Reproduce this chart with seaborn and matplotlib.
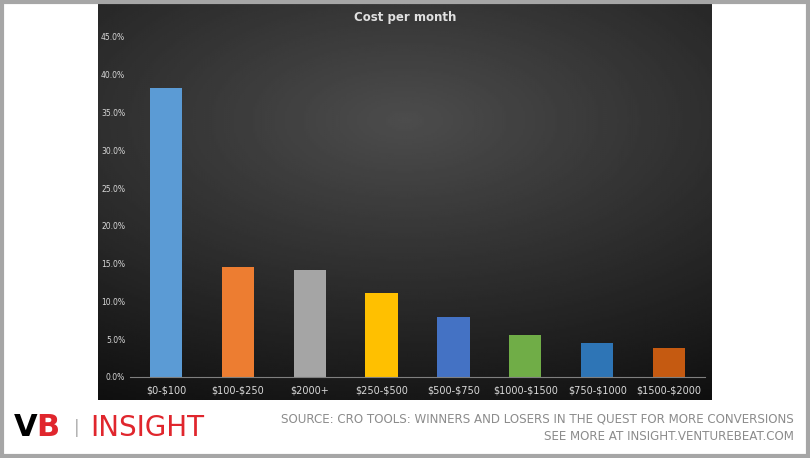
import numpy as np
import pandas as pd
import matplotlib
matplotlib.use('Agg')
import matplotlib.pyplot as plt
import seaborn as sns
from matplotlib.patches import Rectangle

plt.rcParams['text.parse_math'] = False

categories = ['$0-$100', '$100-$250', '$2000+', '$250-$500', '$500-$750',
              '$1000-$1500', '$750-$1000', '$1500-$2000']
values = [38.2, 14.6, 14.2, 11.1, 7.9, 5.5, 4.5, 3.8]
colors = ['#5b9bd5', '#ed7d31', '#a5a5a5', '#ffc000', '#4472c4',
          '#70ad47', '#2e75b6', '#c55a11']
ticks = [0, 5, 10, 15, 20, 25, 30, 35, 40, 45]

df = pd.DataFrame({'cost': categories, 'pct': values})

W, H = 810, 458
fig = plt.figure(figsize=(W / 100, H / 100), dpi=100)
fig.patch.set_facecolor('white')

# grey frame
fig.patches.append(Rectangle((0.002, 0.004), 0.996, 0.992, transform=fig.transFigure,
                             fill=False, edgecolor='#a6a6a6', linewidth=3))

# dark gradient panel
bg = fig.add_axes([98 / W, 1 - 400 / H, (712 - 98) / W, 400 / H])
yy, xx = np.mgrid[-0.6:1.4:200j, -1:1:300j]
grad = 0.30 - 0.15 * np.sqrt(xx ** 2 * 0.6 + yy ** 2)
bg.imshow(grad, cmap='gray', vmin=0, vmax=1, aspect='auto', extent=[0, 1, 0, 1])
bg.axis('off')

ax = fig.add_axes([130 / W, 1 - 377 / H, (705 - 130) / W, (377 - 37) / H])
ax.set_facecolor('none')
sns.barplot(data=df, x='cost', y='pct', hue='cost', palette=colors, legend=False,
            width=0.45, saturation=1, ax=ax)
ax.set_ylim(0, 45)
ax.set_yticks(ticks)
ax.set_yticklabels([f'{t:.1f}%' for t in ticks], fontsize=5.5, color='#d9d9d9')
ax.tick_params(axis='x', labelsize=7, colors='#d9d9d9', length=0, pad=6)
ax.tick_params(axis='y', length=0)
ax.set_xlabel('')
ax.set_ylabel('')
for s in ['top', 'right', 'left']:
    ax.spines[s].set_visible(False)
ax.spines['bottom'].set_color('#7f7f7f')
fig.text(405 / W, 1 - 18 / H, 'Cost per month', ha='center', va='center',
         fontsize=8.5, color='#e0e0e0', fontweight='bold')

# footer
fig.text(14 / W, 1 - 428 / H, 'V', fontsize=22, fontweight='bold', color='black',
         va='center')
fig.text(36 / W, 1 - 428 / H, 'B', fontsize=22, fontweight='bold', color='#e0262d',
         va='center')
fig.text(74 / W, 1 - 428 / H, '|', fontsize=12, color='#aaaaaa', va='center')
fig.text(90 / W, 1 - 428 / H, 'INSIGHT', fontsize=20, color='#e0262d', va='center')
fig.text(794 / W, 1 - 419 / H, 'SOURCE: CRO TOOLS: WINNERS AND LOSERS IN THE QUEST FOR MORE CONVERSIONS',
         fontsize=8.6, color='#8c8c8c', ha='right', va='center')
fig.text(794 / W, 1 - 437 / H, 'SEE MORE AT INSIGHT.VENTUREBEAT.COM',
         fontsize=8.6, color='#8c8c8c', ha='right', va='center')

fig.savefig('out.png', dpi=100)
